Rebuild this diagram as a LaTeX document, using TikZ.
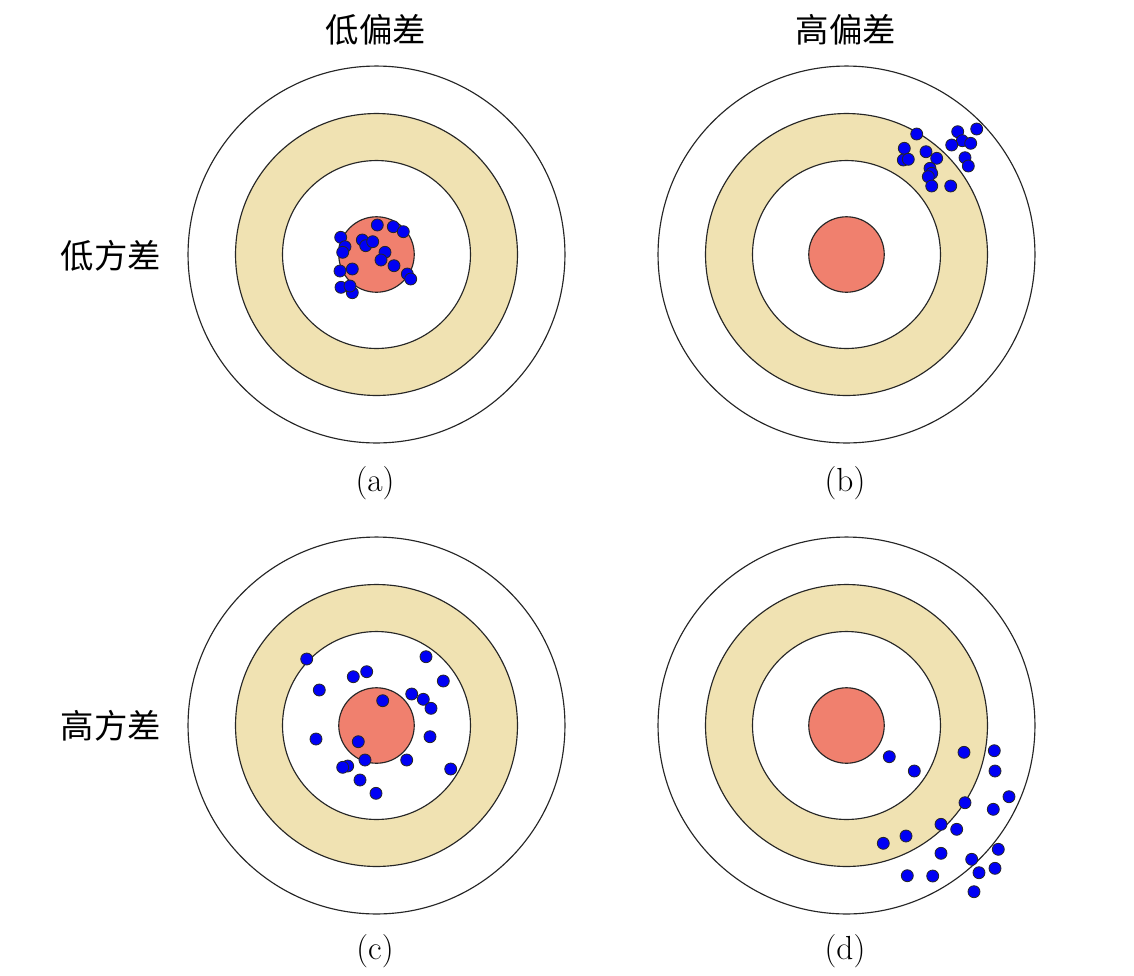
\documentclass[tikz,border=0pt]{standalone}
\usepackage{fontspec}
\newfontfamily\cjk{Noto Sans CJK SC}
\usetikzlibrary{positioning}
\definecolor{bullred}{RGB}{240,128,110}
\definecolor{ringtan}{RGB}{240,226,178}
\definecolor{hitblue}{RGB}{0,0,245}
\tikzset{
  every picture/.style={line width=0.6pt},
  ring/.style={draw=black!85,line width=0.65pt},
  hit/.style={draw=black!85,fill=hitblue,line width=0.45pt},
  head/.style={font=\cjk\fontsize{19}{22}\selectfont,inner sep=0pt},
  sublbl/.style={font=\fontsize{19}{22}\selectfont,inner sep=0pt},
}
% one target: centre given in pixel units
\newcommand{\target}[2]{
  \draw[ring,fill=white] (#1,#2) circle[radius=3.77cm];
  \draw[ring,fill=ringtan] (#1,#2) circle[radius=2.82cm];
  \draw[ring,fill=white] (#1,#2) circle[radius=1.88cm];
  \draw[ring,fill=bullred] (#1,#2) circle[radius=0.755cm];}

\begin{document}
\begin{tikzpicture}[x=0.02cm,y=-0.02cm]
\useasboundingbox (0,0) rectangle (1134,975);
% column and row titles
\node[head] (lowbias) at (376,30) {低偏差};
\node[head] (highbias) at (846,30) {高偏差};
\node[head] (lowvar) at (111,256) {低方差};
\node[head] (highvar) at (111,726) {高方差};
% (a) low bias, low variance
\target{376.5}{254.5}
\foreach \x/\y in {377.3/225,393.3/226.7,403.3/231.7,340.7/237.3,345/246.7,342.7/252.3,
  362.3/240,365.7/245.7,372.7/241.7,385/252.3,381/260,394/265.7,340/271,352.3/269,
  407.3/274,410.7/279,341/287.3,352.3/292.7,350/286}
  \draw[hit] (\x,\y) circle[radius=0.12cm];
\node[sublbl] (capa) at (375,483) {(a)};
% (b) high bias, low variance
\target{846.5}{254.5}
\foreach \x/\y in {916.7/134,957.7/131.7,976.7/129,962.3/140.7,951.7/145,970.7/143.3,
  904.3/148.3,926/151.7,936.7/158.3,903.3/160,908.3/159.3,965/157.7,968.3/166,
  930/168.3,931.7/173.3,928.3/176.7,931.7/186,950.7/186}
  \draw[hit] (\x,\y) circle[radius=0.12cm];
\node[sublbl] (capb) at (845,483) {(b)};
% (c) low bias, high variance
\target{376.5}{725.5}
\foreach \x/\y in {306.7/659,426/656.7,353.3/676.7,366.7/671.7,443.3/681,319.3/690,
  382.7/700.7,411.7/694,423.3/699.3,431/708.3,316/739,358.3/741.7,430/736.7,
  365/760,406.7/760,347.7/766,342.7/767.3,450.7/769,360/780,376/793.3}
  \draw[hit] (\x,\y) circle[radius=0.12cm];
\node[sublbl] (capc) at (375,951) {(c)};
% (d) high bias, high variance
\target{846.5}{725.5}
\foreach \x/\y in {889.3/756.7,914.3/771,964/752.3,994.3/750.7,995/771,1009/796.7,
  965/802.7,993.3/809.3,941/824.3,956.7/829.3,906/836,883.3/843.3,998.3/849.3,
  941/853.3,971.7/859.3,995/868.3,979/872.7,907.3/875.7,932.7/876,974/891.7}
  \draw[hit] (\x,\y) circle[radius=0.12cm];
\node[sublbl] (capd) at (845,951) {(d)};
\end{tikzpicture}
\end{document}
